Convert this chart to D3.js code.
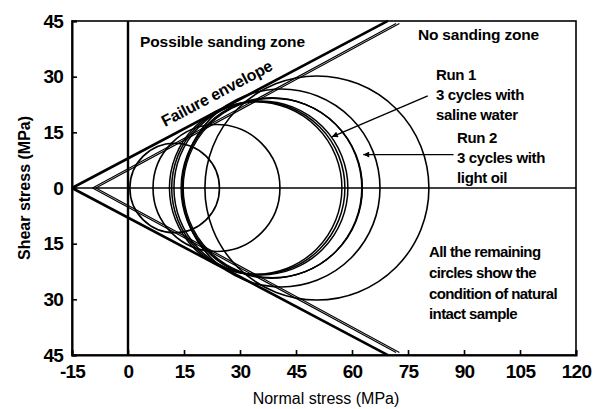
<!DOCTYPE html>
<html><head><meta charset="utf-8">
<script src="https://cdn.jsdelivr.net/npm/d3@7"></script>
<style>
html,body{margin:0;padding:0;background:#fff;}
svg{display:block;}
text{font-family:"Liberation Sans",Arial,Helvetica,sans-serif;fill:#000;}
</style></head><body>
<script>
// ---- data ----
const xTicks = [-15, 0, 15, 30, 45, 60, 75, 90, 105, 120];
const yTicks = [-45, -30, -15, 0, 15, 30, 45];
// Mohr circles: minor / major principal stress (MPa)
const naturalS3 = [0.5, 6.7, 14.5, 20.6];
const naturalS1 = [24.5, 40.7, 67.5, 80.6];
const run1S3 = [11.1, 11.7, 12.3];
const run1S1 = [57.3, 58.1, 58.9];
const run2S3 = [14.2, 14.5, 14.8];
const run2S1 = [62.6, 62.7, 62.8];
// failure envelope lines: normal-stress apex, slope, end normal stress
const envApex = [-15, -9.5, -8.6];
const envSlope = [0.532, 0.545, 0.545];
const envEnd = [69.6, 71.8, 72.7];
const envWidth = [2.6, 1.2, 1.2];

const W = 594, H = 409;
const svg = d3.select("body").append("svg").attr("width", W).attr("height", H);
const x = d3.scaleLinear().domain([-15, 120]).range([72, 576]);
const y = d3.scaleLinear().domain([-45, 45]).range([355, 21]);

// frame
svg.append("rect").attr("x", x(-15)).attr("y", y(45)).attr("width", x(120) - x(-15)).attr("height", y(-45) - y(45))
  .attr("fill", "none").attr("stroke", "#000").attr("stroke-width", 1.6);

// axes
const yAxis = d3.axisLeft(y).tickValues(yTicks).tickSize(-5).tickPadding(9).tickFormat(d => Math.abs(d));
const gy = svg.append("g").attr("transform", `translate(${x(-15)},0)`).call(yAxis);
const xAxis = d3.axisBottom(x).tickValues(xTicks).tickSize(-5).tickPadding(10).tickFormat(d => d);
const gx = svg.append("g").attr("transform", `translate(0,${y(-45)})`).call(xAxis);
[gx, gy].forEach(g => {
  g.select(".domain").attr("stroke-width", 2);
  g.selectAll(".tick line").attr("stroke-width", 1.6);
  g.selectAll(".tick text").attr("font-size", 19).attr("font-weight", "bold")
    .attr("letter-spacing", -0.8).attr("font-family", "Liberation Sans, Arial, sans-serif");
});

// zero lines
svg.append("line").attr("x1", x(-15)).attr("x2", x(120)).attr("y1", y(0)).attr("y2", y(0))
  .attr("stroke", "#000").attr("stroke-width", 1.5);
svg.append("line").attr("x1", x(0)).attr("x2", x(0)).attr("y1", y(45)).attr("y2", y(-45))
  .attr("stroke", "#000").attr("stroke-width", 2.4);

// envelope
envApex.forEach((a, i) => {
  [1, -1].forEach(s => {
    svg.append("line")
      .attr("x1", x(a)).attr("y1", y(0))
      .attr("x2", x(envEnd[i])).attr("y2", y(s * envSlope[i] * (envEnd[i] - a)))
      .attr("stroke", "#000").attr("stroke-width", envWidth[i]);
  });
});

// circles
function drawCircles(s3, s1, sw) {
  s3.forEach((lo, i) => {
    const hi = s1[i];
    const c = (lo + hi) / 2, r = (hi - lo) / 2;
    svg.append("circle").attr("cx", x(c)).attr("cy", y(0)).attr("r", x(c + r) - x(c))
      .attr("fill", "none").attr("stroke", "#000").attr("stroke-width", sw);
  });
}
drawCircles(naturalS3, naturalS1, 1.6);
drawCircles(run1S3, run1S1, 1.5);
drawCircles(run2S3, run2S1, 1.3);

// arrows
const defs = svg.append("defs");
defs.append("marker").attr("id", "ah").attr("viewBox", "0 0 10 10").attr("refX", 10).attr("refY", 5)
  .attr("markerWidth", 7).attr("markerHeight", 6).attr("orient", "auto").attr("markerUnits", "userSpaceOnUse")
  .append("path").attr("d", "M0,0L10,5L0,10Z").attr("fill", "#000");
const arrows = [
  {from: [80.3, 24.8], to: [54.6, 13.8]},
  {from: [87.2, 9.0], to: [63.0, 9.0]}
];
arrows.forEach(a => {
  svg.append("line").attr("x1", x(a.from[0])).attr("y1", y(a.from[1]))
    .attr("x2", x(a.to[0])).attr("y2", y(a.to[1]))
    .attr("stroke", "#000").attr("stroke-width", 1.4).attr("marker-end", "url(#ah)");
});

// annotations
const ann = svg.append("g").attr("font-weight", "bold").attr("font-size", 15).attr("letter-spacing", -0.35);
ann.append("text").attr("x", 140).attr("y", 47).attr("font-size", 15.5).attr("letter-spacing", -0.1).text("Possible sanding zone");
ann.append("text").attr("x", 418).attr("y", 40).attr("font-size", 15.5).attr("letter-spacing", -0.2).text("No sanding zone");
const t1 = [["Run 1", 80], ["3 cycles with", 100], ["saline water", 120]];
t1.forEach(d => ann.append("text").attr("x", 436).attr("y", d[1]).text(d[0]));
const t2 = [["Run 2", 143], ["3 cycles with", 163], ["light oil", 183]];
t2.forEach(d => ann.append("text").attr("x", 457).attr("y", d[1]).text(d[0]));
const t3 = [["All the remaining", 257], ["circles show the", 278], ["condition of natural", 299], ["intact sample", 319]];
t3.forEach(d => ann.append("text").attr("x", 429).attr("y", d[1]).attr("letter-spacing", -0.6).text(d[0]));
const ang = Math.atan2(y(0) - y(envSlope[0] * 10), x(10) - x(0)) * 180 / Math.PI;
ann.append("text").attr("transform", `translate(165,127) rotate(${-ang})`).attr("font-size", 16)
  .attr("letter-spacing", -0.2).text("Failure envelope");

// axis titles
svg.append("text").attr("x", 326).attr("y", 404).attr("text-anchor", "middle").attr("font-size", 16)
  .text("Normal stress (MPa)");
svg.append("text").attr("transform", `translate(30,${y(0)}) rotate(-90)`).attr("text-anchor", "middle")
  .attr("font-size", 16).attr("font-weight", "bold").text("Shear stress (MPa)");
</script>
</body></html>
